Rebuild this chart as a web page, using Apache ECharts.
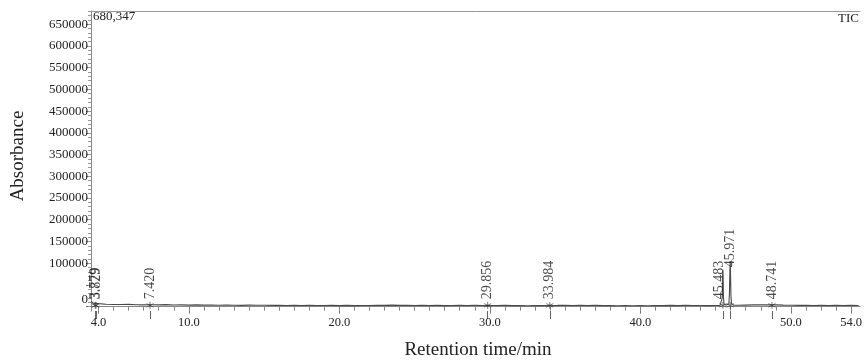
<!DOCTYPE html>
<html>
<head>
<meta charset="utf-8">
<script src="https://cdn.jsdelivr.net/npm/echarts@6/dist/echarts.min.js"></script>
<style>
  html, body { margin: 0; padding: 0; background: #fff; }
  #chart { width: 865px; height: 363px; }
</style>
</head>
<body>
<div id="chart"></div>
<script>
// TIC chromatogram: baseline readings [time (min), intensity]
const baseline = [
  [3.5, 12000], [4.0, 7000], [4.5, 5500], [5.0, 5000], [5.5, 4800], [6.0, 5200], [6.5, 4500], [7.0, 4200],
  [7.5, 4300], [8.0, 4000], [8.5, 4600], [9.0, 3900], [9.5, 4200], [10.0, 3600], [10.5, 4100], [11.0, 3500],
  [11.5, 3900], [12.0, 3300], [12.5, 3800], [13.0, 3400], [13.5, 3000], [14.0, 3600], [14.5, 3100], [15.0, 3400],
  [15.5, 2900], [16.0, 3300], [16.5, 2800], [17.0, 3200], [17.5, 2600], [18.0, 3100], [18.5, 2700], [19.0, 2500],
  [19.5, 3000], [20.0, 2400], [20.5, 2900], [21.0, 2300], [21.5, 2800], [22.0, 2600], [22.5, 3400], [23.0, 3000],
  [23.5, 3600], [24.0, 2900], [24.5, 3300], [25.0, 2700], [25.5, 3100], [26.0, 2500], [26.5, 3000], [27.0, 2400],
  [27.5, 2800], [28.0, 3200], [28.5, 2600], [29.0, 3000], [29.5, 2700], [30.0, 2800], [30.5, 2500], [31.0, 2900],
  [31.5, 2300], [32.0, 2700], [32.5, 2200], [33.0, 2600], [33.5, 2400], [34.5, 2900], [35.0, 3400], [35.5, 2800],
  [36.0, 3200], [36.5, 2600], [37.0, 3000], [37.5, 2400], [38.0, 2800], [38.5, 2200], [39.0, 2600], [39.5, 2000],
  [40.0, 2500], [40.5, 2100], [41.0, 2700], [41.5, 2300], [42.0, 2900], [42.5, 2400], [43.0, 3000], [43.5, 2500],
  [44.0, 2800], [44.5, 2300], [45.0, 2700], [46.5, 3200], [47.0, 3600], [47.5, 4000], [48.0, 4400], [48.5, 4000],
  [49.0, 4200], [49.5, 3600], [50.0, 3300], [50.5, 2900], [51.0, 3300], [51.5, 2800], [52.0, 3200], [52.5, 2700],
  [53.0, 3100], [53.5, 2600], [54.0, 3000], [54.5, 2700]
];

// Peak profiles [time (min), intensity]
const peakA = [[3.70, 7500], [3.76, 10500], [3.779, 11500], [3.80, 9000], [3.829, 10000], [3.86, 7800], [3.92, 7000]];
const peakB = [[7.35, 4300], [7.42, 7000], [7.49, 4400]];
const peakC = [[29.80, 2700], [29.856, 5000], [29.92, 2800]];
const peakD = [[33.92, 2500], [33.984, 6000], [34.05, 2700]];
const peakE = [
  [45.30, 2800], [45.40, 3500], [45.44, 20000], [45.46, 62000], [45.483, 85000], [45.50, 68000], [45.52, 22000],
  [45.56, 6000], [45.62, 4200], [45.70, 3600], [45.80, 3400], [45.88, 6000], [45.92, 30000], [45.95, 85000],
  [45.971, 105000], [45.99, 80000], [46.02, 25000], [46.06, 7000], [46.12, 4000], [46.20, 3200]
];
const peakF = [[48.68, 4100], [48.741, 6500], [48.80, 4200]];

// Integrated peak retention times
const peakTimes = [3.779, 3.829, 7.420, 29.856, 33.984, 45.483, 45.971, 48.741];

// Axis ticks and labels
const xLabelValues = [4, 10, 20, 30, 40, 50, 54];
const yLabelValues = [0, 100000, 150000, 200000, 250000, 300000, 350000, 400000, 450000, 500000, 550000, 600000, 650000];
const yMax = 680347;

// merge baseline with peak profiles
const clusters = [peakA, peakB, peakC, peakD, peakE, peakF];
let trace = baseline.filter(p => !clusters.some(c => p[0] >= c[0][0] && p[0] <= c[c.length - 1][0]));
clusters.forEach(c => { trace = trace.concat(c); });
trace.sort((a, b) => a[0] - b[0]);

const serif = 'Liberation Serif';
const markerLevel = 3000;
// label nudges for crowded peaks, in the rotated text frame [along text, across text]
const labelNudge = { '45.483': [0, -4], '45.971': [32, 0] };

const majorY = [];
for (let v = 0; v <= 650000; v += 50000) majorY.push(v);
const minorY = [];
for (let v = 0; v <= 680000; v += 10000) minorY.push(v);
const minorX = [];
for (let v = 4; v <= 54; v += 1) minorX.push(v);

const chart = echarts.init(document.getElementById('chart'));
chart.setOption({
  animation: false,
  backgroundColor: '#fff',
  grid: { left: 91, top: 11, right: 0, bottom: 52 },
  xAxis: [
    {
      type: 'value', min: 3.5, max: 54.6, position: 'bottom',
      axisLine: { show: true, lineStyle: { color: '#888', width: 1 } },
      axisTick: { show: true, customValues: xLabelValues, length: 7, lineStyle: { color: '#777' } },
      axisLabel: {
        customValues: xLabelValues, formatter: v => v.toFixed(1),
        fontFamily: serif, fontSize: 12.5, color: '#222', margin: 5
      },
      splitLine: { show: false }
    },
    {
      type: 'value', min: 3.5, max: 54.6, position: 'bottom',
      axisLine: { show: false },
      axisTick: { show: true, customValues: minorX, length: 4, lineStyle: { color: '#888' } },
      axisLabel: { show: false }, splitLine: { show: false }
    },
    {
      type: 'value', min: 3.5, max: 54.6, position: 'bottom',
      axisLine: { show: false },
      axisTick: { show: true, customValues: peakTimes, length: 8, lineStyle: { color: '#666' } },
      axisLabel: { show: false }, splitLine: { show: false }
    },
    {
      type: 'value', min: 3.5, max: 54.6, position: 'top',
      axisLine: { show: true, lineStyle: { color: '#999', width: 1 } },
      axisTick: { show: false }, axisLabel: { show: false }, splitLine: { show: false }
    }
  ],
  yAxis: [
    {
      type: 'value', min: -10000, max: yMax, position: 'left',
      axisLine: { show: true, lineStyle: { color: '#888', width: 1 } },
      axisTick: { show: true, customValues: majorY, length: 5, lineStyle: { color: '#777' } },
      axisLabel: {
        customValues: yLabelValues,
        formatter: v => v === 0 ? '{z|0}' : String(v),
        rich: { z: { fontFamily: serif, fontSize: 13, color: '#222', padding: [0, 0, 14, 0] } },
        fontFamily: serif, fontSize: 13, color: '#222', margin: 3
      },
      splitLine: { show: false }
    },
    {
      type: 'value', min: -10000, max: yMax, position: 'left',
      axisLine: { show: false },
      axisTick: { show: true, customValues: minorY, length: 3, lineStyle: { color: '#999' } },
      axisLabel: { show: false }, splitLine: { show: false }
    }
  ],
  series: [
    {
      type: 'line', data: trace, xAxisIndex: 0, yAxisIndex: 0,
      showSymbol: false, symbol: 'none', clip: true,
      lineStyle: { color: '#4a4a4a', width: 1.1 }, z: 3
    },
    {
      type: 'scatter', xAxisIndex: 0, yAxisIndex: 0,
      data: peakTimes.map(t => {
        const key = t.toFixed(3);
        const item = { value: [t, markerLevel], name: key };
        if (labelNudge[key]) item.label = { offset: labelNudge[key] };
        return item;
      }),
      symbol: 'path://M0,-5L0,5M-4.3,-2.5L4.3,2.5M-4.3,2.5L4.3,-2.5',
      symbolSize: 7,
      itemStyle: { color: 'none', borderColor: '#333', borderWidth: 0.8 },
      label: {
        show: true, position: 'top', distance: 0, rotate: 90,
        align: 'left', verticalAlign: 'middle',
        formatter: p => p.name,
        fontFamily: serif, fontSize: 14, color: '#1a1a1a'
      },
      z: 4
    }
  ],
  graphic: [
    { type: 'text', left: 93, top: 10, style: { text: '680,347', font: '13px "Liberation Serif"', fill: '#222' } },
    { type: 'text', left: 838, top: 12, style: { text: 'TIC', font: '13px "Liberation Serif"', fill: '#222' } },
    {
      type: 'text', x: 18, y: 156, rotation: Math.PI / 2,
      style: { text: 'Absorbance', font: '19px "Liberation Serif"', fill: '#222', textAlign: 'center', textVerticalAlign: 'middle' }
    },
    {
      type: 'text', x: 478, y: 350,
      style: { text: 'Retention time/min', font: '19px "Liberation Serif"', fill: '#222', textAlign: 'center', textVerticalAlign: 'middle' }
    }
  ]
});
</script>
</body>
</html>
